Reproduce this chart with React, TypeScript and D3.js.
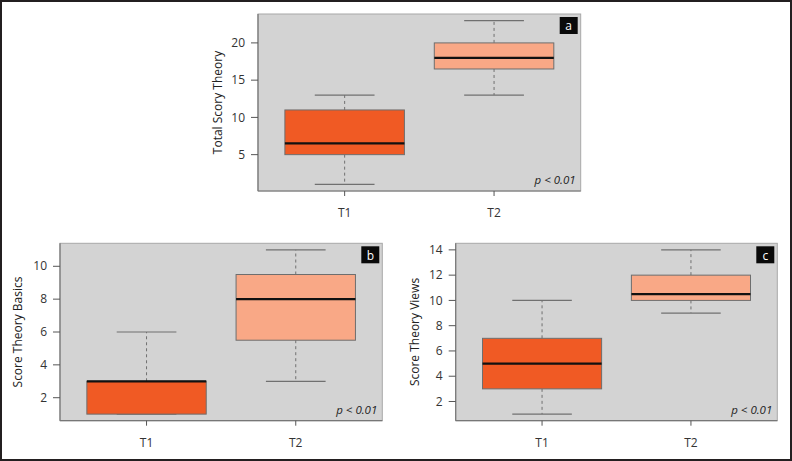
import React from "react";
import * as d3 from "d3";

// ---- data ----
const groups = ["T1", "T2"];
// five-number summaries: [min, q1, median, q3, max]
const totalT1 = [1, 5, 6.5, 11, 13];
const totalT2 = [13, 16.5, 18, 20, 23];
const basicsT1 = [1, 1, 3, 3, 6];
const basicsT2 = [3, 5.5, 8, 9.5, 11];
const viewsT1 = [1, 3, 5, 7, 10];
const viewsT2 = [9, 10, 10.5, 12, 14];
const totalTicks = [5, 10, 15, 20];
const basicsTicks = [2, 4, 6, 8, 10];
const viewsTicks = [2, 4, 6, 8, 10, 12, 14];
const pLabel = "p < 0.01";

const FILLS = ["#F05A24", "#F9A886"];
const FONT = "'Open Sans', 'Noto Sans', sans-serif";

type PanelProps = {
  left: number; right: number; top: number; bottom: number;
  stats: number[][]; ticks: number[]; title: string; letter: string; titleX: number;
};

function Panel({ left, right, top, bottom, stats, ticks, title, letter, titleX }: PanelProps) {
  const all = stats.flat();
  const lo = d3.min(all)!, hi = d3.max(all)!;
  const pad = (hi - lo) * 0.04;
  const y = d3.scaleLinear().domain([lo - pad, hi + pad]).range([bottom, top]);
  const x = d3.scaleLinear().domain([0.42, groups.length + 0.58]).range([left, right]);
  const bw = x(1.4) - x(1);
  const cw = x(1.2) - x(1);
  return (
    <g>
      <rect x={left} y={top} width={right - left} height={bottom - top} fill="#D3D3D3" stroke="#A8A8A8" strokeWidth={1} />
      <line x1={left} x2={left} y1={top} y2={bottom} stroke="#777" strokeWidth={1.2} />
      <line x1={left} x2={right} y1={bottom} y2={bottom} stroke="#777" strokeWidth={1.2} />
      {stats.map((s, i) => {
        const cx = x(i + 1);
        const [mn, q1, md, q3, mx] = s;
        return (
          <g key={i}>
            <line x1={cx} x2={cx} y1={y(q3)} y2={y(mx)} stroke="#707070" strokeDasharray="3,3" />
            <line x1={cx} x2={cx} y1={y(q1)} y2={y(mn)} stroke="#707070" strokeDasharray="3,3" />
            <line x1={cx - cw} x2={cx + cw} y1={y(mx)} y2={y(mx)} stroke="#707070" strokeWidth={1.2} />
            <line x1={cx - cw} x2={cx + cw} y1={y(mn)} y2={y(mn)} stroke="#707070" strokeWidth={1.2} />
            <rect x={cx - bw} y={y(q3)} width={2 * bw} height={y(q1) - y(q3)} fill={FILLS[i]} stroke="#6E6E6E" strokeWidth={1} />
            <line x1={cx - bw} x2={cx + bw} y1={y(md)} y2={y(md)} stroke="#111" strokeWidth={2.2} />
            <line x1={cx} x2={cx} y1={bottom} y2={bottom + 5} stroke="#555" />
            <text x={cx} y={bottom + 26} textAnchor="middle" fontSize={12} fill="#333" fontFamily={FONT}>{groups[i]}</text>
          </g>
        );
      })}
      {ticks.map((t) => (
        <g key={t}>
          <line x1={left - 7} x2={left} y1={y(t)} y2={y(t)} stroke="#555" />
          <text x={left - 13} y={y(t)} dy="0.35em" textAnchor="end" fontSize={12} fill="#333" fontFamily={FONT}>{t}</text>
        </g>
      ))}
      <text transform={`translate(${titleX},${(top + bottom) / 2}) rotate(-90)`} textAnchor="middle" dy="0.35em" fontSize={12} fill="#222" fontFamily={FONT}>{title}</text>
      <rect x={right - 21} y={top + 3} width={18} height={17} fill="#0A0A0A" />
      <text x={right - 12} y={top + 12} dy="0.35em" textAnchor="middle" fontSize={12} fill="#fff" fontFamily={FONT}>{letter}</text>
      <text x={right - 5} y={bottom - 7} textAnchor="end" fontSize={11.5} fontStyle="italic" fill="#222" fontFamily={FONT}>{pLabel}</text>
    </g>
  );
}

export default function App() {
  return (
    <svg width={792} height={461} style={{ position: "absolute", left: 0, top: 0 }}>
      <rect x={0} y={0} width={792} height={461} fill="#fff" />
      <Panel left={258} right={580.7} top={14} bottom={191} stats={[totalT1, totalT2]} ticks={totalTicks} title="Total Scory Theory" letter="a" titleX={218} />
      <Panel left={60} right={382.3} top={243.3} bottom={420.7} stats={[basicsT1, basicsT2]} ticks={basicsTicks} title="Score Theory Basics" letter="b" titleX={18} />
      <Panel left={455.7} right={777.3} top={243.3} bottom={420.7} stats={[viewsT1, viewsT2]} ticks={viewsTicks} title="Score Theory Views" letter="c" titleX={415} />
      <rect x={1} y={1} width={790} height={459} fill="none" stroke="#231F20" strokeWidth={2} />
    </svg>
  );
}
